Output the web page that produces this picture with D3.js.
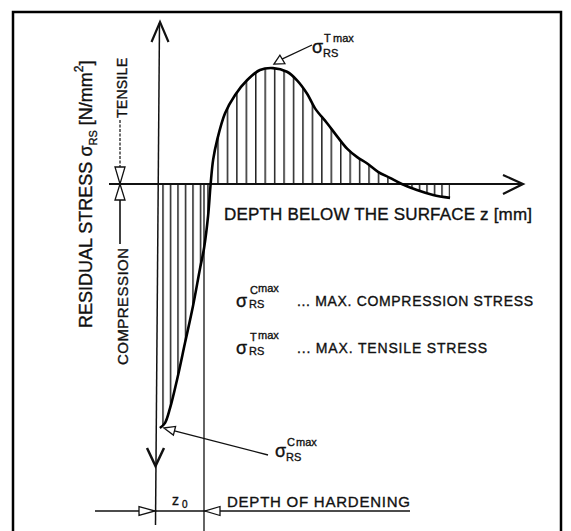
<!DOCTYPE html>
<html>
<head>
<meta charset="utf-8">
<script src="https://cdn.jsdelivr.net/npm/d3@7"></script>
<style>
  body { margin: 0; background: #fff; }
  text { font-family: "Liberation Sans", Arial, sans-serif; fill: #111; stroke: #111; stroke-width: 0.35px; }
</style>
</head>
<body>
<div id="chart"></div>
<script>
// residual stress profile, depth z (arbitrary mm units) vs stress (relative units)
var depth = [0.08, 0.22, 0.36, 0.56, 0.78, 1.0, 1.19, 1.31, 1.42, 1.49, 1.56, 1.67, 1.89, 2.17, 2.5, 2.86,
  3.22, 3.61, 3.89, 4.17, 4.39, 4.72, 5.03, 5.28, 5.56, 5.83, 6.14, 6.47, 6.8, 7.22, 7.67, 8.14];
var stress = [-100, -98, -92, -80, -65, -50, -35, -26, -13, 0, 10, 18, 29, 36.5, 42.5, 46.7,
  47.5, 46, 42.5, 37, 31, 25, 19, 14.5, 11, 8.5, 5, 2.5, 0, -2.5, -4.5, -5.7];
// index ranges of the hatched zones: compression, tensile, tail
var zones = [[0, 9], [9, 28], [28, 31]];
var legendLabels = ["... MAX. COMPRESSION STRESS", "... MAX. TENSILE STRESS"];
var legendSup = ["C", "T"];

(function profile() {
  var width = 571,
    height = 531;

  var svg = d3.select("#chart")
    .append("svg")
    .attr("width", width)
    .attr("height", height);

  var x = d3.scaleLinear().domain([0, 10]).range([157, 517]);
  var y = d3.scaleLinear().domain([-100, 50]).range([428, 62]);

  var data = depth.map(function(d, i) {
    return { z: d, s: stress[i] };
  });

  var curve = d3.curveCatmullRom.alpha(0.5);

  // hatch patterns: narrow spacing for compression zones, wider for tensile
  var defs = svg.append("defs");
  var pats = [{ id: "hA", x: 163, w: 7.5 }, { id: "hB", x: 218, w: 9.44 }, { id: "hC", x: 419.5, w: 7.5 }];
  pats.forEach(function(p) {
    var pat = defs.append("pattern")
      .attr("id", p.id)
      .attr("patternUnits", "userSpaceOnUse")
      .attr("x", p.x - 0.75)
      .attr("y", 0)
      .attr("width", p.w)
      .attr("height", height);
    pat.append("rect")
      .attr("width", 1.5)
      .attr("height", height)
      .attr("fill", "#222");
  });

  var area = d3.area()
    .curve(curve)
    .x(function(d) { return x(d.z); })
    .y0(y(0))
    .y1(function(d) { return y(d.s); });

  svg.selectAll(".zone")
    .data(zones)
    .enter()
    .append("path")
    .attr("class", "zone")
    .attr("d", function(r) { return area(data.slice(r[0], r[1] + 1)); })
    .attr("fill", function(r, i) { return "url(#" + pats[i].id + ")"; });

  // frame
  svg.append("rect")
    .attr("x", 13).attr("y", 12)
    .attr("width", 548).attr("height", 545)
    .attr("fill", "none")
    .attr("stroke", "#000")
    .attr("stroke-width", 2.5);

  // axes
  svg.append("line")
    .attr("x1", 109).attr("x2", 522)
    .attr("y1", y(0)).attr("y2", y(0))
    .attr("stroke", "#111").attr("stroke-width", 1.8);
  svg.append("polyline")
    .attr("points", "503,175 523," + y(0) + " 503,194")
    .attr("fill", "none").attr("stroke", "#111").attr("stroke-width", 2.2);

  svg.append("line")
    .attr("x1", 159.5).attr("y1", 23)
    .attr("x2", 155.5).attr("y2", 525)
    .attr("stroke", "#111").attr("stroke-width", 1.5);
  svg.append("polyline")
    .attr("points", "151.5,42 160,22 168.5,42")
    .attr("fill", "none").attr("stroke", "#111").attr("stroke-width", 2.2);
  svg.append("polyline")
    .attr("points", "147,448 155.5,466 164,448")
    .attr("fill", "none").attr("stroke", "#111").attr("stroke-width", 2.5);

  // depth of hardening line
  svg.append("line")
    .attr("x1", 204).attr("x2", 204)
    .attr("y1", y(0)).attr("y2", 531)
    .attr("stroke", "#111").attr("stroke-width", 1.3);

  // the profile curve
  var line = d3.line()
    .curve(curve)
    .x(function(d) { return x(d.z); })
    .y(function(d) { return y(d.s); });

  svg.append("path")
    .datum(data)
    .attr("d", line)
    .attr("fill", "none")
    .attr("stroke", "#000")
    .attr("stroke-width", 2.6);

  function openTri(pts) {
    svg.append("polygon")
      .attr("points", pts)
      .attr("fill", "#fff")
      .attr("stroke", "#111")
      .attr("stroke-width", 1.3);
  }

  // tensile / compression marker
  svg.append("line")
    .attr("x1", 120).attr("x2", 120).attr("y1", 120).attr("y2", 167)
    .attr("stroke", "#222").attr("stroke-width", 1.3).attr("stroke-dasharray", "3,1.5");
  svg.append("line")
    .attr("x1", 120).attr("x2", 120).attr("y1", 200).attr("y2", 244)
    .attr("stroke", "#111").attr("stroke-width", 1.6);
  openTri("115,167 125,167 120," + y(0));
  openTri("115,200 125,200 120," + y(0));

  svg.append("text")
    .attr("transform", "translate(127,118) rotate(-90)")
    .style("font-size", "14px")
    .attr("textLength", 60)
    .text("TENSILE");
  svg.append("text")
    .attr("transform", "translate(128,365) rotate(-90)")
    .style("font-size", "15px")
    .attr("textLength", 117)
    .text("COMPRESSION");

  // y axis title
  var yt = svg.append("text")
    .attr("transform", "translate(92,328) rotate(-90)")
    .style("font-size", "18px");
  yt.append("tspan").text("RESIDUAL STRESS σ");
  yt.append("tspan").attr("dy", 5).style("font-size", "11px").text("RS");
  yt.append("tspan").attr("dy", -5).text(" [N/mm");
  yt.append("tspan").attr("dy", -9).style("font-size", "12px").text("2");
  yt.append("tspan").attr("dy", 9).text("]");

  // x axis title
  svg.append("text")
    .attr("x", 224).attr("y", 220)
    .style("font-size", "17px")
    .attr("textLength", 308)
    .text("DEPTH BELOW THE SURFACE z [mm]");

  // sigma label helper
  function sigma(sx, sy, sup) {
    svg.append("text").attr("x", sx).attr("y", sy).style("font-size", "18px").text("σ");
    svg.append("text").attr("x", sx + 12).attr("y", sy - 11).style("font-size", "11px").text(sup);
    svg.append("text").attr("x", sx + 21).attr("y", sy - 11).style("font-size", "11px").text("max");
    svg.append("text").attr("x", sx + 11).attr("y", sy + 4).style("font-size", "11px").text("RS");
  }

  // peak annotation
  var iMax = d3.maxIndex(stress), iMin = d3.minIndex(stress);
  var px = x(depth[iMax]), py = y(stress[iMax]);
  openTri((px + 1) + "," + (py - 4) + " " + (px + 12) + "," + (py - 4.5) + " " + (px + 7) + "," + (py - 13));
  svg.append("line")
    .attr("x1", px + 9).attr("y1", py - 9)
    .attr("x2", 312).attr("y2", 45)
    .attr("stroke", "#111").attr("stroke-width", 1.3);
  sigma(312, 53, "T");

  // minimum annotation
  var mx = x(depth[iMin]) + 4, my = y(stress[iMin]);
  openTri(mx + "," + my + " " + (mx + 11.7) + "," + (my - 1.6) + " " + (mx + 9.5) + "," + (my + 7.1));
  svg.append("line")
    .attr("x1", mx + 10.6).attr("y1", my + 2.8)
    .attr("x2", 268).attr("y2", 455)
    .attr("stroke", "#111").attr("stroke-width", 1.3);
  sigma(275, 457, "C");

  // legend
  var legend = svg.selectAll(".legend")
    .data(legendLabels)
    .enter()
    .append("g")
    .attr("class", "legend")
    .attr("transform", function(d, i) { return "translate(0," + (i * 47) + ")"; });

  legend.append("text").attr("x", 236).attr("y", 307).style("font-size", "18px").text("σ");
  legend.append("text").attr("x", 250).attr("y", 294).style("font-size", "11px")
    .text(function(d, i) { return legendSup[i]; });
  legend.append("text").attr("x", 258).attr("y", 292).style("font-size", "11px").text("max");
  legend.append("text").attr("x", 249).attr("y", 308).style("font-size", "11px").text("RS");
  legend.append("text")
    .attr("x", 297).attr("y", 306)
    .style("font-size", "14px")
    .attr("textLength", function(d, i) { return i === 0 ? 236 : 190; })
    .text(function(d) { return d; });

  // depth of hardening dimension
  svg.append("line")
    .attr("x1", 95).attr("x2", 410)
    .attr("y1", 511).attr("y2", 511)
    .attr("stroke", "#111").attr("stroke-width", 1.5);
  openTri("139,506.5 139,515.5 155,511");
  openTri("220,506.5 220,515.5 205,511");
  svg.append("text").attr("x", 172).attr("y", 505).style("font-size", "14px").text("z");
  svg.append("text").attr("x", 182).attr("y", 508).style("font-size", "10px").text("0");
  svg.append("text")
    .attr("x", 227).attr("y", 507)
    .style("font-size", "15px")
    .attr("textLength", 183)
    .text("DEPTH OF HARDENING");
})();
</script>
</body>
</html>
